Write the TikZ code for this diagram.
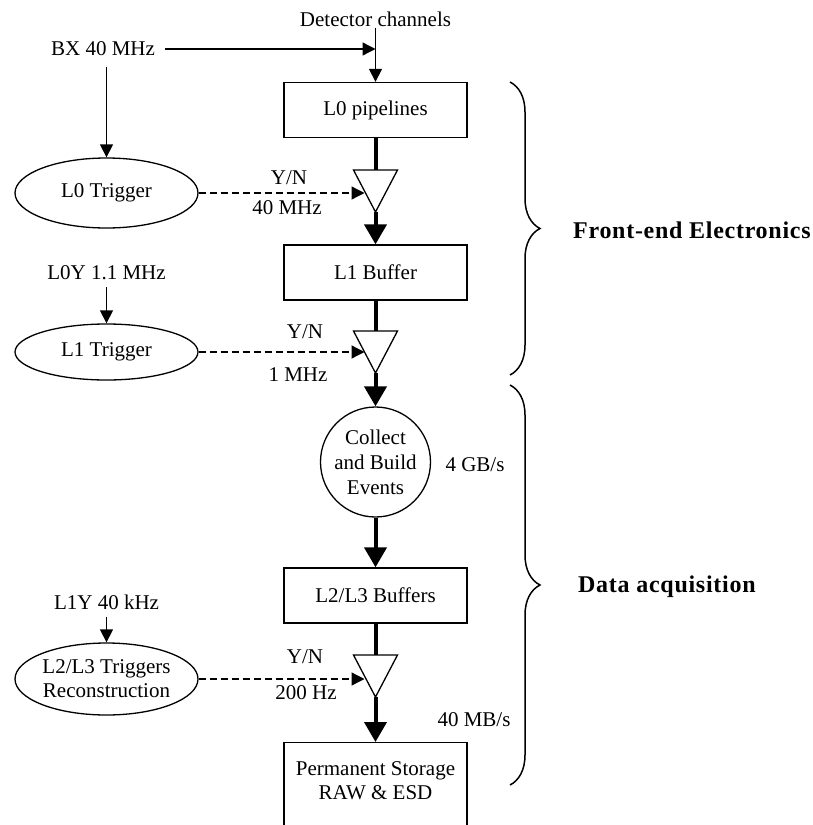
\documentclass[tikz,border=0pt]{standalone}
\usepackage{fontspec}
\setmainfont{Liberation Serif}
\newfontfamily\headfont[LetterSpace=3]{Liberation Serif}
\usetikzlibrary{arrows.meta,shapes.geometric,decorations.pathreplacing}

\tikzset{
  txt/.style={inner sep=1pt, font=\fontsize{21}{25}\selectfont},
  head/.style={inner sep=1pt, font=\headfont\bfseries\fontsize{24}{28}\selectfont},
  box/.style={draw, line width=1.3pt, minimum width=183pt, minimum height=55pt,
    inner sep=0pt, font=\fontsize{21}{24}\selectfont},
  trig/.style={draw, ellipse, line width=1.3pt, minimum width=183pt, inner sep=0pt,
    align=center, font=\fontsize{21}{24}\selectfont},
  gate/.style={draw, isosceles triangle, isosceles triangle stretches,
    shape border rotate=-90, minimum width=44pt, minimum height=42pt,
    inner sep=0pt, outer sep=0pt, line width=1.3pt},
  sigarrow/.style={line width=1.3pt, -{Triangle[length=13pt,width=13pt]}},
  heavy/.style={line width=4pt},
  heavyarrow/.style={line width=4pt, -{Triangle[length=20pt,width=22pt]}},
  dasharrow/.style={line width=1.3pt, dash pattern=on 7pt off 4pt,
    -{Triangle[length=13pt,width=13pt]}},
  bracket/.style={decorate, decoration={brace, amplitude=30pt}, line width=1.5pt},
}

\begin{document}
\begin{tikzpicture}[x=1pt, y=-1pt]
\useasboundingbox (0,0) rectangle (812,825);

% inputs
\node[txt] (det) at (375.5,19) {Detector channels};
\node[txt] (bx) at (103,49) {BX 40 MHz};

% main data path
\node[box] (p0) at (375.5,110) {L0 pipelines};
\node[gate, anchor=apex] (g0) at (375.5,212) {};
\node[box] (l1b) at (375.5,272.5) {L1 Buffer};
\node[gate, anchor=apex] (g1) at (375.5,373) {};
\node[draw, circle, minimum size=110pt, line width=1.3pt, align=center, inner sep=0pt,
  font=\fontsize{21}{25}\selectfont] (ev) at (375.5,462) {Collect\\and Build\\Events};
\node[box] (l23b) at (375.5,595.5) {L2/L3 Buffers};
\node[gate, anchor=apex] (g2) at (375.5,697) {};
\node[box, minimum height=110pt, anchor=north,
  label={[align=center, anchor=north, yshift=-16pt, font=\fontsize{21}{24}\selectfont]north:Permanent Storage\\RAW \& ESD}]
  (store) at (375.5,742) {};

% trigger levels
\node[trig, minimum height=70pt] (t0) at (106.5,193) {L0 Trigger};
\node[txt] (l0y) at (106.5,273) {L0Y 1.1 MHz};
\node[trig, minimum height=56pt] (t1) at (106.5,352) {L1 Trigger};
\node[txt] (l1y) at (106.5,602) {L1Y 40 kHz};
\node[trig, minimum height=72pt] (t23) at (106.5,679) {L2/L3 Triggers\\Reconstruction};

% rate labels
\node[txt] (yn0) at (289,178) {Y/N};
\node[txt] (r0) at (287,208) {40 MHz};
\node[txt] (yn1) at (305,332) {Y/N};
\node[txt] (r1) at (298,375) {1 MHz};
\node[txt] (yn2) at (305,657) {Y/N};
\node[txt] (r2) at (306,693) {200 Hz};
\node[txt] (bw1) at (475,465) {4 GB/s};
\node[txt] (bw2) at (474,720) {40 MB/s};

% connectors
\draw[sigarrow] (det.south) -- (p0.north);
\draw[sigarrow, shorten <=9pt] (bx.east) -- (bx.east -| p0.north);
\draw[sigarrow, shorten <=10pt] (t0.north |- bx.south) -- (t0.north);
\draw[sigarrow, shorten <=6pt] (l0y.south) -- (t1.north);
\draw[sigarrow, shorten <=6pt] (l1y.south) -- (t23.north);

\draw[heavy] (p0.south) -- (g0.lower side);
\draw[heavyarrow] (g0.apex) -- (l1b.north);
\draw[heavy] (l1b.south) -- (g1.lower side);
\draw[heavyarrow] (g1.apex) -- (ev.north);
\draw[heavyarrow] (ev.south) -- (l23b.north);
\draw[heavy] (l23b.south) -- (g2.lower side);
\draw[heavyarrow] (g2.apex) -- (store.north);

\draw[dasharrow] (t0.east) -- (t0.east -| g0.right side);
\draw[dasharrow] (t1.east) -- (t1.east -| g1.right side);
\draw[dasharrow] (t23.east) -- (t23.east -| g2.right side);

% grouping braces
\coordinate (fe1) at (510,82);
\coordinate (fe2) at (510,375);
\coordinate (da1) at (510,385);
\coordinate (da2) at (510,785);
\draw[bracket] (fe1) -- (fe2);
\draw[bracket] (da1) -- (da2);
\node[head, anchor=west] (fe) at (572,230) {Front-end Electronics};
\node[head, anchor=west] (da) at (577,587) {Data acquisition};
\end{tikzpicture}
\end{document}
